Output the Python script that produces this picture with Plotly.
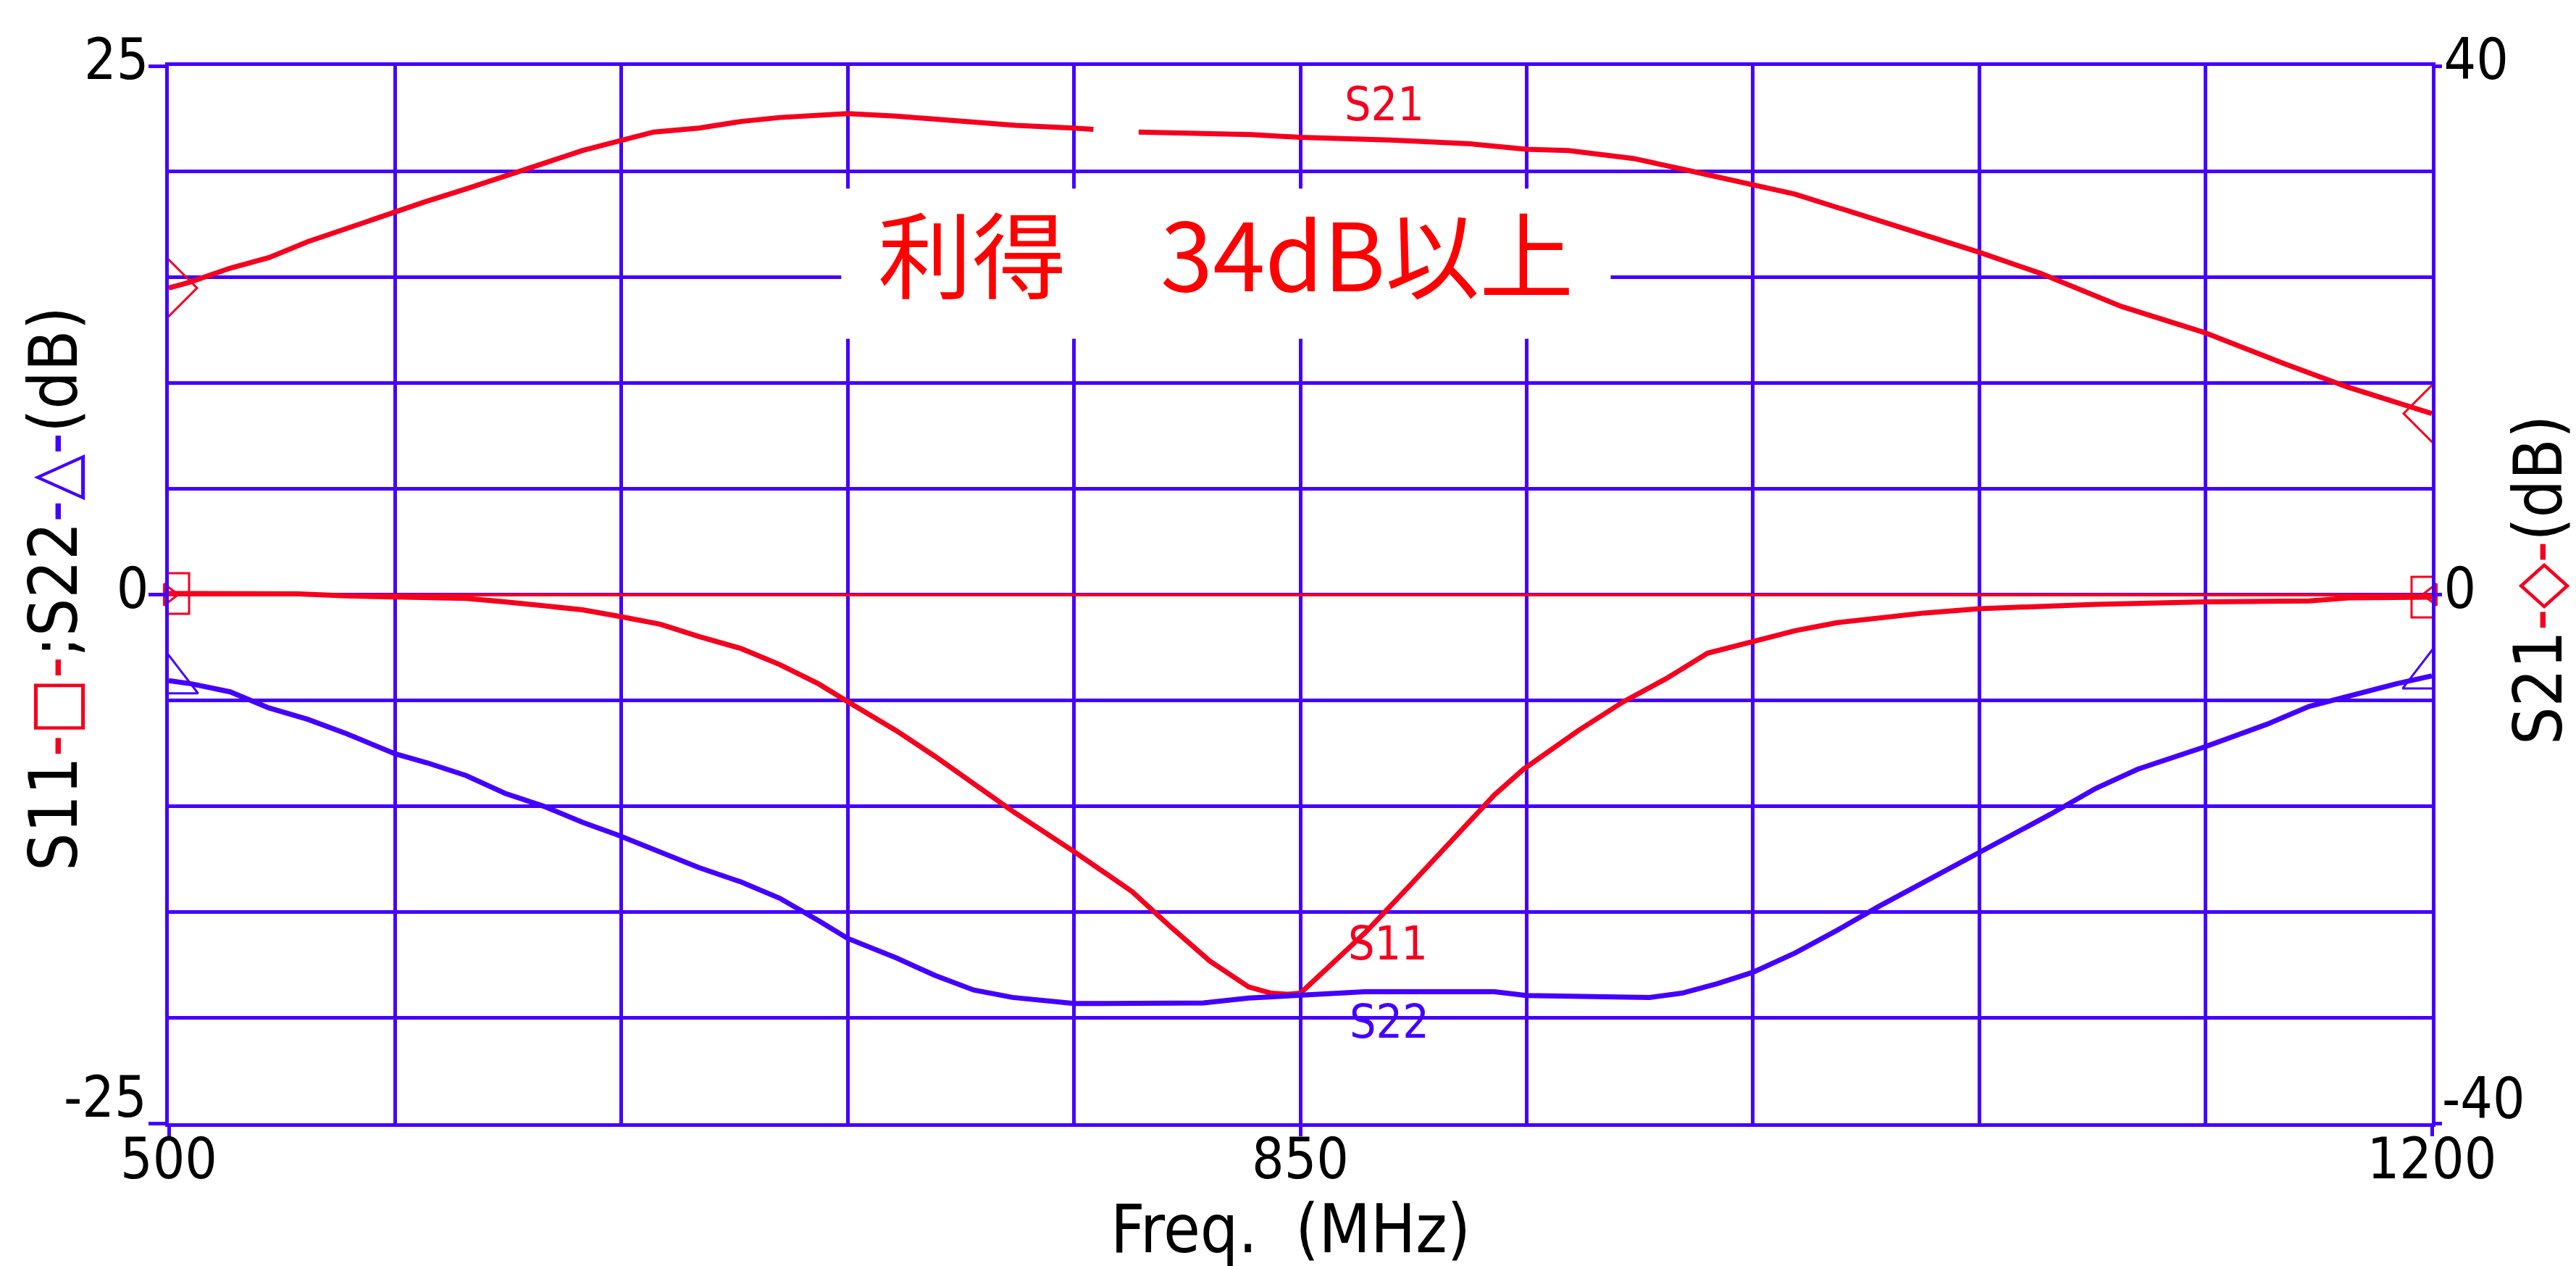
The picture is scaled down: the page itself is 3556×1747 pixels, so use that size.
import plotly.graph_objects as go

# ---------------- data ----------------
s21_freq = [500, 506, 519, 531, 543, 555, 570, 579, 592, 604, 616, 628, 639, 650, 664, 677,
            689, 703, 710, 725, 737, 749, 762, 780, 786, 793, 800, 835, 850, 878, 903, 920,
            933, 953, 968, 990, 1003, 1029, 1060, 1079, 1104, 1130, 1154, 1174, 1200]
s21_db = [23.2, 23.6, 24.7, 25.5, 26.7, 27.7, 29.0, 29.7, 30.7, 31.7, 32.7, 33.6, 34.3, 35.0, 35.3, 35.8,
          36.1, 36.3, 36.4, 36.2, 36.0, 35.8, 35.5, 35.3, 35.2, None, 35.0, 34.8, 34.6, 34.4, 34.1, 33.7,
          33.6, 33.0, 32.2, 31.0, 30.3, 28.3, 25.9, 24.3, 21.8, 19.8, 17.5, 15.7, 13.7]

s11_freq = [500, 520, 540, 555, 570, 592, 604, 616, 628, 639, 652, 664, 677, 689, 701, 710,
            725, 737, 749, 761, 780, 798, 810, 822, 834, 841, 846, 850, 857, 870, 883, 897,
            910, 919, 936, 950, 963, 976, 990, 1003, 1016, 1043, 1060, 1096, 1130, 1162, 1175, 1200]
s11_db = [0.05, 0.05, 0.03, -0.06, -0.09, -0.18, -0.34, -0.52, -0.72, -1.02, -1.40, -1.98, -2.55, -3.31, -4.22, -5.06,
          -6.43, -7.65, -8.95, -10.24, -12.15, -14.05, -15.73, -17.33, -18.55, -18.85, -18.9, -18.85, -17.86, -16.0, -13.9, -11.6,
          -9.48, -8.26, -6.43, -5.06, -3.99, -2.77, -2.24, -1.71, -1.33, -0.87, -0.67, -0.46, -0.34, -0.30, -0.15, -0.12]

s22_freq = [500, 507, 519, 531, 543, 555, 570, 580, 592, 604, 616, 628, 639, 652, 664, 677,
            689, 701, 710, 725, 737, 749, 761, 780, 820, 834, 850, 870, 910, 920, 958, 968,
            979, 990, 1003, 1016, 1029, 1043, 1060, 1069, 1082, 1096, 1109, 1130, 1149, 1162, 1175, 1189, 1200]
s22_db = [-4.07, -4.22, -4.60, -5.36, -5.90, -6.58, -7.53, -7.96, -8.56, -9.40, -10.01, -10.77, -11.38, -12.15, -12.91, -13.59,
          -14.36, -15.42, -16.26, -17.18, -18.01, -18.70, -19.05, -19.34, -19.31, -19.08, -18.96, -18.78, -18.78, -18.96, -19.05, -18.85,
          -18.40, -17.86, -16.95, -15.88, -14.74, -13.59, -12.22, -11.46, -10.39, -9.17, -8.26, -7.19, -6.13, -5.29, -4.75, -4.22, -3.84]

x_ticks = [500, 850, 1200]
x_ticktext = ["500", "850", "1200"]
y1_ticks = [-25, 0, 25]
y1_ticktext = ["", "0", "25"]
y2_ticks = [-40, 0, 40]
y2_ticktext = ["", "0", "40"]
y1_bottom_label = "-25"
y2_bottom_label = "-40"
x_range = [500, 1200]
y1_range = [-25, 25]
y2_range = [-40, 40]
x_grid_step = 70
y_grid_step = 5
light_grid_x = 990

labels = {"S21": (876, 23.2), "S11": (877, -16.5), "S22": (877.5, -20.2)}
gain_text = "利得　34dB以上"
gain_pos = (827, 16.3)
gain_box = (708, 946, 12.1, 19.2)

# ---------------- styles ----------------
BLUE = "#4400FF"
RED = "#F5001E"
NARROW = "DejaVu Sans Condensed, Liberation Sans Narrow, DejaVu Sans, sans-serif"
W, H = 3556, 1747
ML, MR, MT, MB = 225, 207, 83, 205
GW = 5      # grid / frame width
LW = 7      # curve width

fig = go.Figure()

fig.add_trace(go.Scatter(x=s11_freq, y=s11_db, mode="lines", line=dict(color=RED, width=LW),
                         showlegend=False, name="S11"))
fig.add_trace(go.Scatter(x=s22_freq, y=s22_db, mode="lines", line=dict(color=BLUE, width=LW),
                         showlegend=False, name="S22"))
fig.add_trace(go.Scatter(x=s21_freq, y=s21_db, mode="lines", line=dict(color=RED, width=LW),
                         connectgaps=False, showlegend=False, name="S21", yaxis="y2"))

# end markers (half clipped by the plot frame)
fig.add_trace(go.Scatter(x=[s11_freq[0], s11_freq[-1]], y=[s11_db[0], s11_db[-1]], mode="markers",
                         marker=dict(symbol="square-open", size=56, color=RED, line=dict(width=3, color=RED)),
                         showlegend=False))
fig.add_trace(go.Scatter(x=[s22_freq[0], s22_freq[-1]], y=[s22_db[0], s22_db[-1]], mode="markers",
                         marker=dict(symbol="triangle-up-open", size=70, color=BLUE, line=dict(width=3, color=BLUE)),
                         showlegend=False))
fig.add_trace(go.Scatter(x=[s21_freq[0], s21_freq[-1]], y=[s21_db[0], s21_db[-1]], mode="markers", yaxis="y2",
                         marker=dict(symbol="diamond-open", size=60, color=RED, line=dict(width=3, color=RED)),
                         showlegend=False))
# small red zero indicators on the frame
fig.add_trace(go.Scatter(x=x_range, y=[0, 0], mode="markers", cliponaxis=False,
                         marker=dict(symbol=["triangle-right-open", "triangle-left-open"], size=26, color=RED,
                                     line=dict(width=3, color=RED)),
                         showlegend=False, hoverinfo="skip"))

tickfont = dict(family=NARROW, size=78, color="black")
titlefont = dict(family=NARROW, size=92, color="black")

fig.update_layout(
    width=W, height=H,
    margin=dict(l=ML, r=MR, t=MT, b=MB, autoexpand=False),
    paper_bgcolor="white", plot_bgcolor="white",
    xaxis=dict(range=x_range, tickvals=x_ticks, ticktext=x_ticktext, tickfont=tickfont,
               showline=True, linecolor=BLUE, linewidth=GW, mirror=True,
               ticks="outside", ticklen=13, tickwidth=GW, tickcolor=BLUE, ticklabelstandoff=-36,
               showgrid=True, gridcolor=BLUE, gridwidth=GW, zeroline=False,
               minor=dict(tick0=x_range[0], dtick=x_grid_step, showgrid=True, gridcolor=BLUE, gridwidth=GW, ticks="")),
    yaxis=dict(range=y1_range, tickvals=y1_ticks, ticktext=y1_ticktext, tickfont=tickfont,
               showline=True, linecolor=BLUE, linewidth=GW, mirror=True,
               ticks="outside", ticklen=23, tickwidth=GW, tickcolor=BLUE,
               ticklabelstandoff=-16, ticklabelshift=-9,
               showgrid=True, gridcolor=BLUE, gridwidth=GW,
               zeroline=True, zerolinecolor=RED, zerolinewidth=4,
               minor=dict(tick0=y1_range[0], dtick=y_grid_step, showgrid=True, gridcolor=BLUE, gridwidth=GW, ticks="")),
    yaxis2=dict(range=y2_range, overlaying="y", side="right", tickvals=y2_ticks, ticktext=y2_ticktext,
                tickfont=tickfont, showline=False, showgrid=False, zeroline=False,
                ticks="outside", ticklen=13, tickwidth=GW, tickcolor=BLUE,
                ticklabelstandoff=-13, ticklabelshift=-9),
)

# lighter grid line
fig.add_shape(type="line", xref="x", yref="paper", x0=light_grid_x, x1=light_grid_x, y0=0, y1=1,
              line=dict(color="#A68CFF", width=4), layer="between")
# white box behind the gain text
fig.add_shape(type="rect", xref="x", yref="y", x0=gain_box[0], x1=gain_box[1], y0=gain_box[2], y1=gain_box[3],
              fillcolor="white", line=dict(width=0), layer="between")

def px_to_paper_x(px):
    return (px - ML) / (W - ML - MR)

def px_to_paper_y(py):
    return (H - MB - py) / (H - MT - MB)

annos = []
# axis titles
annos.append(dict(text=("S11<span style='color:%s'>-□-</span>;S22<span style='color:%s'>-△-</span>(dB)" % (RED, BLUE)),
                  xref="paper", yref="paper", x=px_to_paper_x(66), y=px_to_paper_y(805),
                  xanchor="center", yanchor="middle", textangle=-90, showarrow=False, font=titlefont))
annos.append(dict(text=("S21<span style='color:%s'>-◇-</span>(dB)" % RED),
                  xref="paper", yref="paper", x=px_to_paper_x(3496), y=px_to_paper_y(793),
                  xanchor="center", yanchor="middle", textangle=-90, showarrow=False, font=titlefont))
annos.append(dict(text="Freq.  (MHz)", xref="paper", yref="paper", x=px_to_paper_x(1773), y=px_to_paper_y(1688),
                  xanchor="center", yanchor="middle", showarrow=False, font=titlefont))
# raised bottom tick labels
annos.append(dict(text=y1_bottom_label, xref="paper", yref="paper", x=px_to_paper_x(197), y=px_to_paper_y(1506),
                  xanchor="right", yanchor="middle", showarrow=False, font=tickfont))
annos.append(dict(text=y2_bottom_label, xref="paper", yref="paper", x=px_to_paper_x(3361), y=px_to_paper_y(1508),
                  xanchor="left", yanchor="middle", showarrow=False, font=tickfont))
# curve labels
for name, (lx, ly) in labels.items():
    annos.append(dict(text=name, x=lx, y=ly, xref="x", yref="y", showarrow=False,
                      font=dict(family=NARROW, size=64, color=(BLUE if name == "S22" else RED))))
# gain annotation
annos.append(dict(text=gain_text, x=gain_pos[0], y=gain_pos[1], xref="x", yref="y", showarrow=False,
                  font=dict(family="Noto Sans CJK JP", size=130, color="#FF0000")))
fig.update_layout(annotations=annos)

fig.write_html("out.html")
